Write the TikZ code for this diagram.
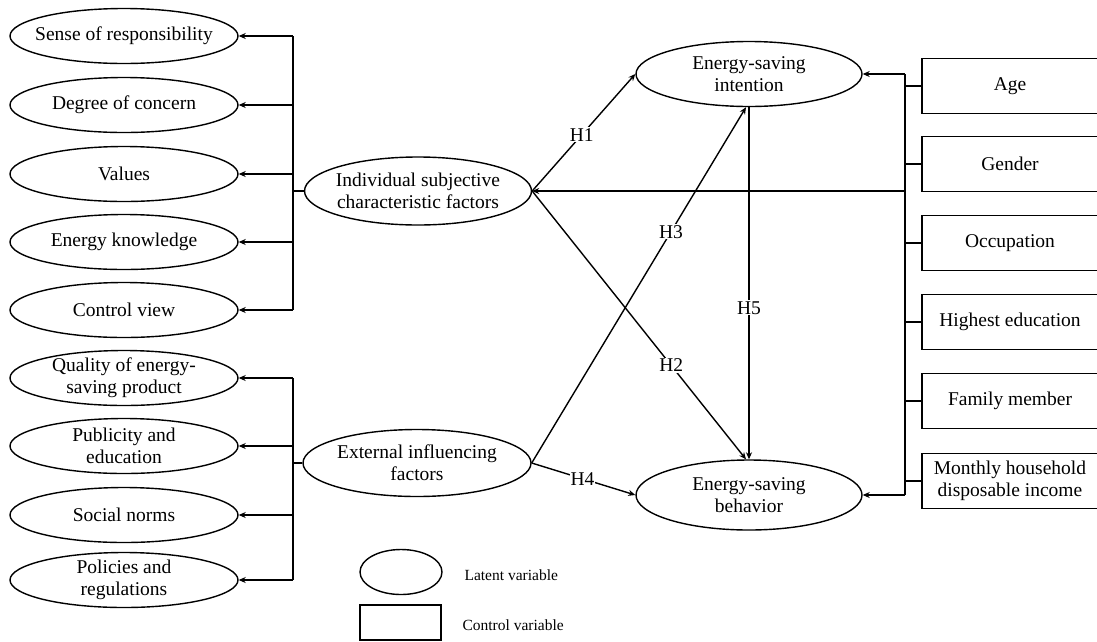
\documentclass[tikz,border=0pt]{standalone}
\usepackage{fontspec}
\setmainfont{Liberation Serif}
\usetikzlibrary{arrows.meta,shapes.geometric}
\begin{document}
\begin{tikzpicture}[x=1pt,y=-1pt,
  lat/.style={draw,ellipse,line width=1.4pt,minimum width=228pt,minimum height=55pt,inner xsep=-30pt,inner ysep=-10pt,align=center,font=\fontsize{19.5}{22}\selectfont},
  ctl/.style={draw,rectangle,line width=1.8pt,minimum width=176pt,minimum height=55pt,inner sep=0pt,align=center,font=\fontsize{19.5}{22}\selectfont},
  bus/.style={line width=1.8pt},
  arr/.style={line width=1.8pt,-{Stealth[length=7pt,width=6pt]}},
  hyp/.style={line width=1.4pt,-{Stealth[length=7pt,width=6pt]}},
  hl/.style={fill=white,inner sep=1pt,font=\fontsize{19.5}{22}\selectfont},
  leg/.style={anchor=west,font=\fontsize{15.5}{17}\selectfont}]
\useasboundingbox (0,0) rectangle (1097,641);
% left top group
\node[lat] (s1) at (124,36) {Sense of responsibility};
\node[lat] (s2) at (124,105) {Degree of concern};
\node[lat] (s3) at (124,174) {Values};
\node[lat] (s4) at (124,242) {Energy knowledge};
\node[lat] (s5) at (124,310) {Control view};
% left bottom group
\node[lat] (e1) at (124,378) {Quality of energy-\\saving product};
\node[lat] (e2) at (124,446) {Publicity and\\education};
\node[lat] (e3) at (124,515) {Social norms};
\node[lat] (e4) at (124,580) {Policies and\\regulations};
% central latent
\node[lat,minimum width=227pt,minimum height=68pt] (ind) at (418,191) {Individual subjective\\characteristic factors};
\node[lat,minimum width=228pt,minimum height=67pt] (ext) at (417,463) {External influencing\\factors};
\node[lat,minimum width=226pt,minimum height=65pt] (int) at (749,74) {Energy-saving\\intention};
\node[lat,minimum width=226pt,minimum height=70pt] (beh) at (749,495) {Energy-saving\\behavior};
% control boxes
\node[ctl] (c1) at (1010,86) {Age};
\node[ctl] (c2) at (1010,164) {Gender};
\node[ctl] (c3) at (1010,243) {Occupation};
\node[ctl] (c4) at (1010,322) {Highest education};
\node[ctl] (c5) at (1010,401) {Family member};
\node[ctl] (c6) at (1010,481) {Monthly household\\disposable income};
% bus coordinates
\coordinate (bL) at (293,0);
\coordinate (bR) at (905,0);
% left top bus
\draw[bus] (bL |- s1.east) -- (bL |- s5.east);
\draw[bus] (ind.west) -- (ind.west -| bL);
\foreach \n in {s1,s2,s3,s4,s5} \draw[arr] (bL |- \n.east) -- (\n.east);
% left bottom bus
\draw[bus] (bL |- e1.east) -- (bL |- e4.east);
\draw[bus] (ext.west) -- (ext.west -| bL);
\foreach \n in {e1,e2,e3,e4} \draw[arr] (bL |- \n.east) -- (\n.east);
% right bus
\draw[bus] (bR |- int.east) -- (bR |- beh.east);
\foreach \n in {c1,c2,c3,c4,c5,c6} \draw[bus] (\n.west) -- (\n.west -| bR);
\draw[arr] (bR |- int.east) -- (int.east);
\draw[arr] (bR |- beh.east) -- (beh.east);
\draw[arr] (bR |- ind.east) -- (ind.east);
% hypotheses
\draw[hyp] (ind.east) -- (int.west) node[hl,pos=0.48] {H1};
\draw[hyp] (ind.east) -- ([xshift=-3pt]beh.north) node[hl,pos=0.65] {H2};
\draw[hyp] (ext.east) -- ([xshift=-3pt]int.south) node[hl,pos=0.65] {H3};
\draw[hyp] (ext.east) -- (beh.west) node[hl,pos=0.49] {H4};
\draw[hyp] (int.south) -- (beh.north) node[hl,pos=0.57] {H5};
% legend
\node[draw,ellipse,line width=1.4pt,minimum width=82pt,minimum height=45pt,inner sep=0pt] (le) at (401,572) {};
\node[draw,rectangle,line width=1.8pt,minimum width=81pt,minimum height=35pt,inner sep=0pt] (lr) at (400.5,622.5) {};
\node[leg] (lt1) at (461,575) {Latent variable};
\node[leg] (lt2) at (459,625) {Control variable};
\end{tikzpicture}
\end{document}
